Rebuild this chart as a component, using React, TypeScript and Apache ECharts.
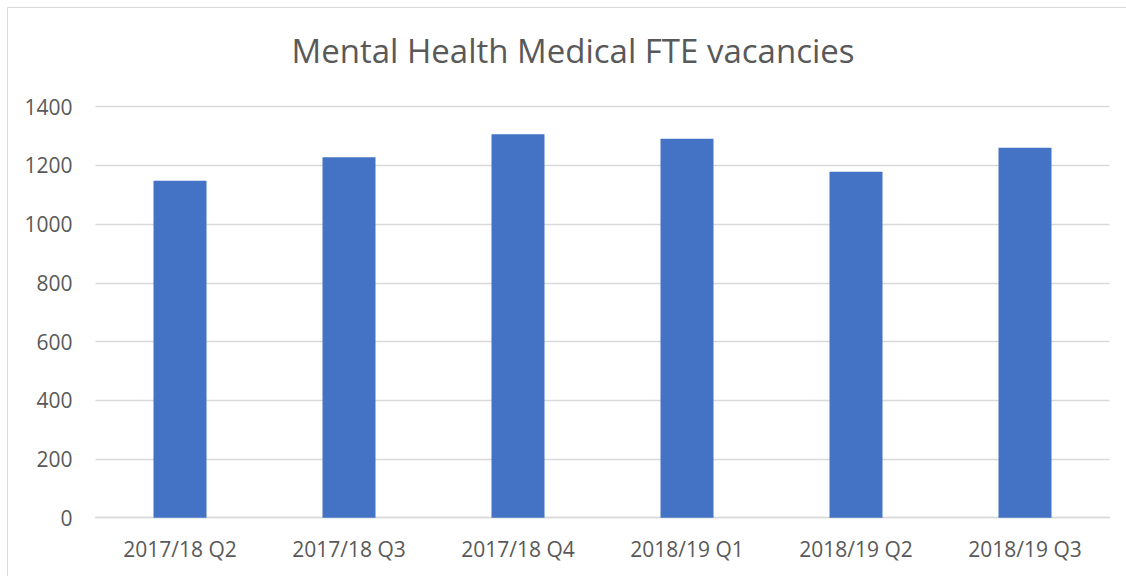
import React, { useEffect, useRef } from "react";
import * as echarts from "echarts";

const categories = ["2017/18 Q2", "2017/18 Q3", "2017/18 Q4", "2018/19 Q1", "2018/19 Q2", "2018/19 Q3"];
const vacancies = [1148, 1228, 1306, 1291, 1178, 1260];
const titleText = "Mental Health Medical FTE vacancies";

export default function App() {
  const ref = useRef<HTMLDivElement>(null);
  useEffect(() => {
    if (!ref.current) return;
    const chart = echarts.init(ref.current, null, { renderer: "svg" });
    chart.setOption({
      animation: false,
      backgroundColor: "#ffffff",
      textStyle: { fontFamily: "Open Sans" },
      title: {
        text: titleText,
        left: 568,
        top: 29,
        textAlign: "center",
        textStyle: { fontFamily: "Open Sans", fontSize: 33, fontWeight: "normal", color: "#595959" },
      },
      graphic: [
        {
          type: "rect",
          shape: { x: 7.5, y: 7.5, width: 1300, height: 700 },
          style: { fill: "none", stroke: "#d9d9d9", lineWidth: 1 },
          silent: true,
        },
      ],
      grid: { left: 95.5, right: 16.5, top: 106.7, bottom: 58.3 },
      xAxis: {
        type: "category",
        data: categories,
        axisLine: { show: true, lineStyle: { color: "#d9d9d9", width: 1.3 } },
        axisTick: { show: false },
        axisLabel: { color: "#595959", fontSize: 21, margin: 21, fontFamily: "Open Sans" },
      },
      yAxis: {
        type: "value",
        min: 0,
        max: 1400,
        interval: 200,
        axisLine: { show: false },
        axisTick: { show: false },
        splitLine: { lineStyle: { color: "#d9d9d9", width: 1.3 } },
        axisLabel: {
          color: "#595959",
          fontSize: 21,
          margin: 23,
          fontFamily: "Open Sans",
          formatter: (v: number) => String(v),
        },
      },
      series: [
        {
          type: "bar",
          data: vacancies,
          barWidth: 53,
          itemStyle: { color: "#4472c4" },
        },
      ],
    });
    return () => chart.dispose();
  }, []);
  return (
    <div style={{ position: "fixed", left: 0, top: 0, width: "100vw", height: "100vh", overflow: "hidden", background: "#fff" }}>
      <div ref={ref} style={{ width: 1126, height: 576 }} />
    </div>
  );
}
